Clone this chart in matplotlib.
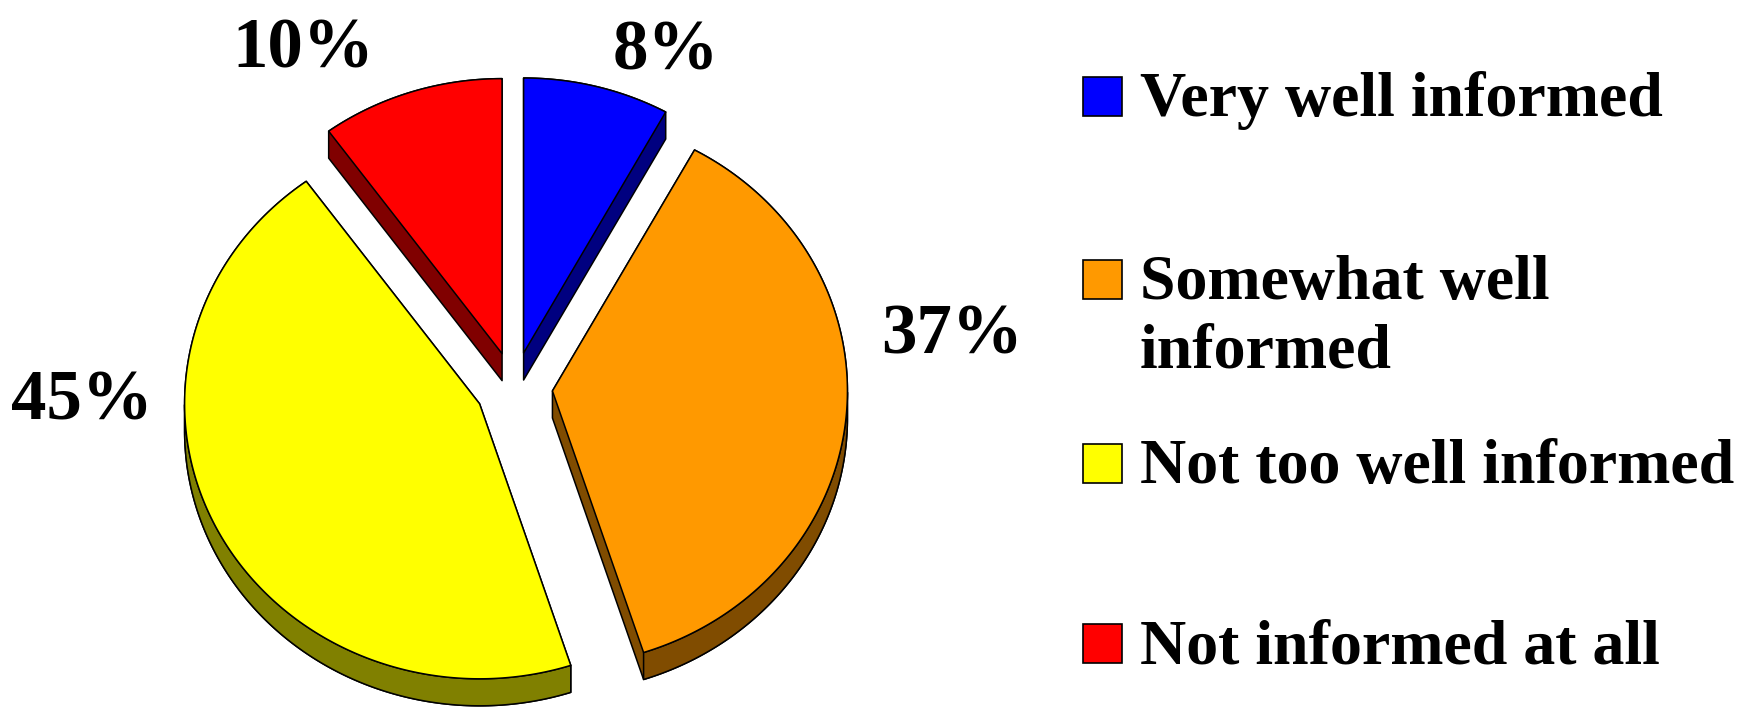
import numpy as np
import matplotlib
matplotlib.use("Agg")
import matplotlib.pyplot as plt
from matplotlib.patches import Polygon, Rectangle

# ---- data ----
categories = ["Very well informed", "Somewhat well\ninformed",
              "Not too well informed", "Not informed at all"]
values = [8, 37, 45, 10]
pct_labels = ["8%", "37%", "45%", "10%"]
face_colors = ["#0000FF", "#FF9900", "#FFFF00", "#FF0000"]
side_colors = ["#000080", "#804C00", "#808000", "#800000"]

# ---- layout (pixel units) ----
W, H = 1740, 707
cx, cy = 514, 387.6      # pie centre
rx, ry = 295, 275        # radii (tilted ellipse)
ex, ey = 38.6, 35.7      # explosion distance
depth = 27               # 3-D thickness
label_pos = [(666, 69), (952, 354), (82, 419), (303, 67)]
legend_sq_top = [77, 260, 444, 624]
legend_sq_x, legend_sq_size = 1083, 39
legend_text_x = 1140
legend_line_gap = 68
FONT = "Liberation Serif"

fig = plt.figure(figsize=(W / 100, H / 100), dpi=100)
ax = fig.add_axes([0, 0, 1, 1])
ax.set_xlim(0, W)
ax.set_ylim(H, 0)
ax.axis("off")


def convex_hull(pts):
    pts = sorted(map(tuple, pts))
    def cross(o, a, b):
        return (a[0]-o[0])*(b[1]-o[1]) - (a[1]-o[1])*(b[0]-o[0])
    lower, upper = [], []
    for p in pts:
        while len(lower) >= 2 and cross(lower[-2], lower[-1], p) <= 0:
            lower.pop()
        lower.append(p)
    for p in reversed(pts):
        while len(upper) >= 2 and cross(upper[-2], upper[-1], p) <= 0:
            upper.pop()
        upper.append(p)
    return np.array(lower[:-1] + upper[:-1])


total = float(sum(values))
angles = []
start = 90.0
for v in values:
    end = start - 360.0 * v / total
    angles.append((start, end))
    start = end

lw = 1.1
for i in [3, 0, 2, 1]:
    a0, a1 = angles[i]
    mid = np.radians((a0 + a1) / 2)
    tx = cx + ex * np.cos(mid)
    ty = cy - ey * np.sin(mid)
    t = np.radians(np.linspace(a0, a1, 300))
    arc = np.column_stack([tx + rx * np.cos(t), ty - ry * np.sin(t)])
    top = np.vstack([[tx, ty], arc])
    bottom = top + np.array([0, depth])
    side = convex_hull(np.vstack([top, bottom]))
    ax.add_patch(Polygon(side, closed=True, facecolor=side_colors[i],
                         edgecolor="black", lw=lw, joinstyle="round"))
    front = np.sin(t) <= 0
    if front.sum() > 1:
        fa = arc[front]
        curved = np.vstack([fa, (fa + np.array([0, depth]))[::-1]])
        ax.add_patch(Polygon(curved, closed=True, facecolor=side_colors[i],
                             edgecolor="black", lw=lw, joinstyle="round"))
    ax.add_patch(Polygon(top, closed=True, facecolor=face_colors[i],
                         edgecolor="black", lw=lw, joinstyle="round"))

for lab, (x, y) in zip(pct_labels, label_pos):
    ax.text(x, y, lab, ha="center", va="baseline", fontsize=51,
            fontweight="bold", family=FONT, color="black")

for i, cat in enumerate(categories):
    top_y = legend_sq_top[i]
    ax.add_patch(Rectangle((legend_sq_x, top_y), legend_sq_size, legend_sq_size,
                           facecolor=face_colors[i], edgecolor="black", lw=1.2))
    for k, line in enumerate(cat.split("\n")):
        ax.text(legend_text_x, top_y + legend_sq_size + k * legend_line_gap, line,
                ha="left", va="baseline", fontsize=46, fontweight="bold",
                family=FONT, color="black")

fig.savefig("out.png", dpi=100, facecolor="white")
